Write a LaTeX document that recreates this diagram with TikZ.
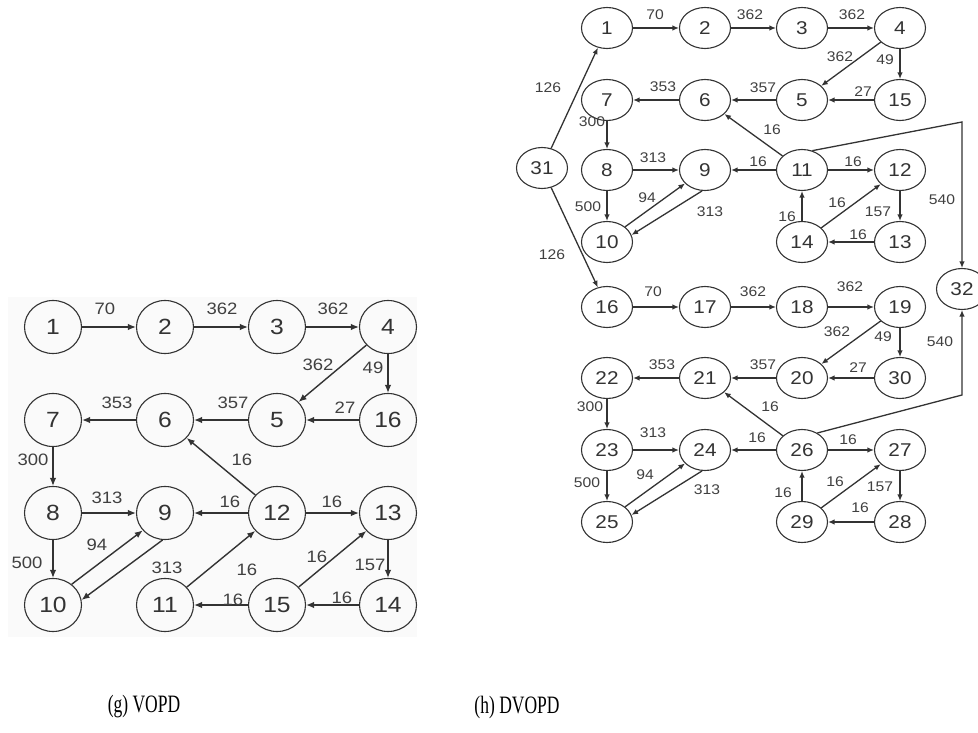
\documentclass[tikz,border=0pt]{standalone}
\usepackage{fontspec}
\usetikzlibrary{shapes.geometric,arrows.meta}
\newfontfamily\nf[FakeStretch=1.12]{Liberation Sans}
\newfontfamily\cf[FakeStretch=0.7]{Liberation Serif}
\tikzset{
 lnode/.style={ellipse, draw=black!80, line width=1.1pt, minimum width=57pt, minimum height=53pt, inner sep=0pt, text=black!80, font=\nf\fontsize{22}{22}\selectfont},
 rnode/.style={ellipse, draw=black!80, line width=1.1pt, minimum width=51pt, minimum height=41pt, inner sep=0pt, text=black!80, font=\nf\fontsize{18.5}{18.5}\selectfont},
 la/.style={draw=black!80, line width=1.4pt, -{Latex[length=8pt,width=6.5pt]}},
 ra/.style={draw=black!80, line width=1.3pt, -{Latex[length=6.5pt,width=5.5pt]}},
 ll/.style={inner sep=0pt, text=black!75, font=\nf\fontsize{16.5}{16.5}\selectfont},
 rl/.style={inner sep=0pt, text=black!75, font=\nf\fontsize{14}{14}\selectfont},
 captext/.style={inner sep=0pt, text=black, font=\cf\fontsize{25}{25}\selectfont}
}
\begin{document}
\begin{tikzpicture}[x=1pt,y=-1pt]
\useasboundingbox (0,0) rectangle (978,733);
\fill[black!2] (8,297) rectangle (417,637);
% ---------- left graph (VOPD) ----------
\node[lnode] (a1) at (53,327) {1};
\node[lnode] (a2) at (165,327) {2};
\node[lnode] (a3) at (277,327) {3};
\node[lnode] (a4) at (388,327) {4};
\node[lnode] (a7) at (53,420) {7};
\node[lnode] (a6) at (165,420) {6};
\node[lnode] (a5) at (277,420) {5};
\node[lnode] (a16) at (388,420) {16};
\node[lnode] (a8) at (53,513) {8};
\node[lnode] (a9) at (165,513) {9};
\node[lnode] (a12) at (277,513) {12};
\node[lnode] (a13) at (388,513) {13};
\node[lnode] (a10) at (53,605) {10};
\node[lnode] (a11) at (165,605) {11};
\node[lnode] (a15) at (277,605) {15};
\node[lnode] (a14) at (388,605) {14};
\draw[la] (a1) -- (a2);
\draw[la] (a2) -- (a3);
\draw[la] (a3) -- (a4);
\draw[la] (a4) -- (a5);
\draw[la] (a4) -- (a16);
\draw[la] (a16) -- (a5);
\draw[la] (a5) -- (a6);
\draw[la] (a6) -- (a7);
\draw[la] (a12) -- (a6);
\draw[la] (a7) -- (a8);
\draw[la] (a8) -- (a9);
\draw[la] (a12) -- (a9);
\draw[la] (a12) -- (a13);
\draw[la] (a8) -- (a10);
\draw[la] (a10.48) -- (a9.218);
\draw[la] (a9.265) -- (a10.10);
\draw[la] (a11) -- (a12);
\draw[la] (a15) -- (a13);
\draw[la] (a13) -- (a14);
\draw[la] (a14) -- (a15);
\draw[la] (a15) -- (a11);
\node[ll] (b1) at (105,309) {70};
\node[ll] (b2) at (222,309) {362};
\node[ll] (b3) at (333,309) {362};
\node[ll] (b4) at (318,365) {362};
\node[ll] (b5) at (373,368) {49};
\node[ll] (b6) at (345,408) {27};
\node[ll] (b7) at (233,403) {357};
\node[ll] (b8) at (117,403) {353};
\node[ll] (b9) at (242,460) {16};
\node[ll] (b10) at (33,460) {300};
\node[ll] (b11) at (107,498) {313};
\node[ll] (b12) at (230,502) {16};
\node[ll] (b13) at (332,502) {16};
\node[ll] (b14) at (97,545) {94};
\node[ll] (b15) at (27,563) {500};
\node[ll] (b16) at (167,568) {313};
\node[ll] (b17) at (247,570) {16};
\node[ll] (b18) at (317,557) {16};
\node[ll] (b19) at (370,565) {157};
\node[ll] (b20) at (233,600) {16};
\node[ll] (b21) at (342,598) {16};
% ---------- right graph (DVOPD) ----------
\node[rnode] (r31) at (542,168) {31};
\node[rnode] (r32) at (962,289) {32};
\node[rnode] (r1) at (607,28) {1};
\node[rnode] (r2) at (705,28) {2};
\node[rnode] (r3) at (802,28) {3};
\node[rnode] (r4) at (900,28) {4};
\node[rnode] (r7) at (607,100) {7};
\node[rnode] (r6) at (705,100) {6};
\node[rnode] (r5) at (802,100) {5};
\node[rnode] (r15) at (900,100) {15};
\node[rnode] (r8) at (607,170) {8};
\node[rnode] (r9) at (705,170) {9};
\node[rnode] (r11) at (802,170) {11};
\node[rnode] (r12) at (900,170) {12};
\node[rnode] (r10) at (607,242) {10};
\node[rnode] (r14) at (802,242) {14};
\node[rnode] (r13) at (900,242) {13};
\node[rnode] (r16) at (607,307) {16};
\node[rnode] (r17) at (705,307) {17};
\node[rnode] (r18) at (802,307) {18};
\node[rnode] (r19) at (900,307) {19};
\node[rnode] (r22) at (607,378) {22};
\node[rnode] (r21) at (705,378) {21};
\node[rnode] (r20) at (802,378) {20};
\node[rnode] (r30) at (900,378) {30};
\node[rnode] (r23) at (607,450) {23};
\node[rnode] (r24) at (705,450) {24};
\node[rnode] (r26) at (802,450) {26};
\node[rnode] (r27) at (900,450) {27};
\node[rnode] (r25) at (607,522) {25};
\node[rnode] (r29) at (802,522) {29};
\node[rnode] (r28) at (900,522) {28};
\coordinate (c1) at (962,122);
\coordinate (c2) at (962,395);
\draw[ra] (r31) -- (r1);
\draw[ra] (r31) -- (r16);
\draw[ra] (r1) -- (r2);
\draw[ra] (r2) -- (r3);
\draw[ra] (r3) -- (r4);
\draw[ra] (r4) -- (r5);
\draw[ra] (r4) -- (r15);
\draw[ra] (r15) -- (r5);
\draw[ra] (r5) -- (r6);
\draw[ra] (r6) -- (r7);
\draw[ra] (r11) -- (r6);
\draw[ra] (r7) -- (r8);
\draw[ra] (r8) -- (r9);
\draw[ra] (r11) -- (r9);
\draw[ra] (r11) -- (r12);
\draw[ra] (r8) -- (r10);
\draw[ra] (r10.40) -- (r9.214);
\draw[ra] (r9.262) -- (r10.16);
\draw[ra] (r14) -- (r11);
\draw[ra] (r14) -- (r12);
\draw[ra] (r12) -- (r13);
\draw[ra] (r13) -- (r14);
\draw[ra] (r11.62) -- (c1) -- (r32);
\draw[ra] (r16) -- (r17);
\draw[ra] (r17) -- (r18);
\draw[ra] (r18) -- (r19);
\draw[ra] (r19) -- (r20);
\draw[ra] (r19) -- (r30);
\draw[ra] (r30) -- (r20);
\draw[ra] (r20) -- (r21);
\draw[ra] (r21) -- (r22);
\draw[ra] (r26) -- (r21);
\draw[ra] (r22) -- (r23);
\draw[ra] (r23) -- (r24);
\draw[ra] (r26) -- (r24);
\draw[ra] (r26) -- (r27);
\draw[ra] (r23) -- (r25);
\draw[ra] (r25.40) -- (r24.214);
\draw[ra] (r24.262) -- (r25.16);
\draw[ra] (r29) -- (r26);
\draw[ra] (r29) -- (r27);
\draw[ra] (r27) -- (r28);
\draw[ra] (r28) -- (r29);
\draw[ra] (r26.48) -- (c2) -- (r32);
\node[rl] (s1) at (655,15) {70};
\node[rl] (s2) at (750,15) {362};
\node[rl] (s3) at (852,15) {362};
\node[rl] (s4) at (840,57) {362};
\node[rl] (s5) at (885,60) {49};
\node[rl] (s6) at (863,92) {27};
\node[rl] (s7) at (763,88) {357};
\node[rl] (s8) at (663,87) {353};
\node[rl] (s9) at (548,88) {126};
\node[rl] (s10) at (772,130) {16};
\node[rl] (s11) at (592,122) {300};
\node[rl] (s12) at (653,158) {313};
\node[rl] (s13) at (758,162) {16};
\node[rl] (s14) at (853,162) {16};
\node[rl] (s15) at (942,200) {540};
\node[rl] (s16) at (647,198) {94};
\node[rl] (s17) at (588,207) {500};
\node[rl] (s18) at (710,212) {313};
\node[rl] (s19) at (837,203) {16};
\node[rl] (s20) at (878,212) {157};
\node[rl] (s21) at (787,217) {16};
\node[rl] (s22) at (858,235) {16};
\node[rl] (s23) at (552,255) {126};
\node[rl] (t1) at (653,292) {70};
\node[rl] (t2) at (753,292) {362};
\node[rl] (t3) at (850,287) {362};
\node[rl] (t4) at (837,332) {362};
\node[rl] (t5) at (883,337) {49};
\node[rl] (t6) at (940,342) {540};
\node[rl] (t7) at (858,368) {27};
\node[rl] (t8) at (763,365) {357};
\node[rl] (t9) at (662,365) {353};
\node[rl] (t10) at (770,407) {16};
\node[rl] (t11) at (590,407) {300};
\node[rl] (t12) at (653,433) {313};
\node[rl] (t13) at (757,438) {16};
\node[rl] (t14) at (848,440) {16};
\node[rl] (t15) at (645,475) {94};
\node[rl] (t16) at (587,483) {500};
\node[rl] (t17) at (707,490) {313};
\node[rl] (t18) at (835,482) {16};
\node[rl] (t19) at (880,487) {157};
\node[rl] (t20) at (783,493) {16};
\node[rl] (t21) at (860,508) {16};
% ---------- captions ----------
\node[captext] (capg) at (144,707) {(g) VOPD};
\node[captext] (caph) at (517,707) {(h) DVOPD};
\end{tikzpicture}
\end{document}
